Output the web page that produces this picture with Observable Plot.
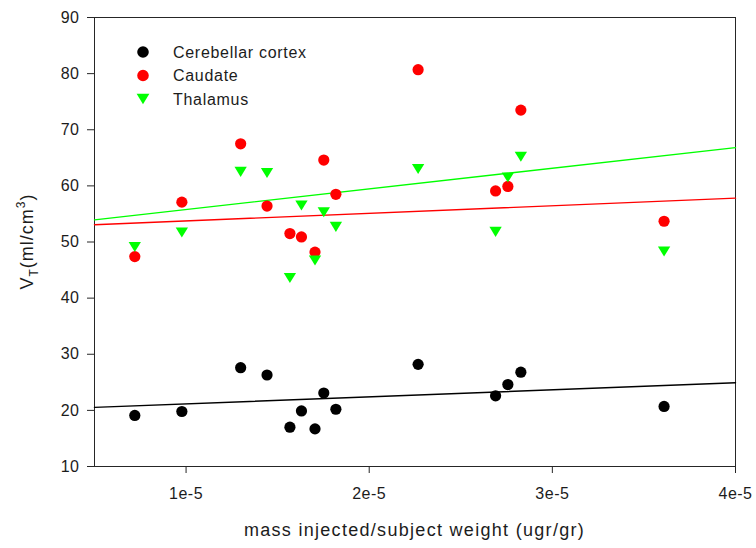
<!DOCTYPE html>
<html>
<head>
<meta charset="utf-8">
<script src="https://cdn.jsdelivr.net/npm/d3@7"></script>
<script src="https://cdn.jsdelivr.net/npm/@observablehq/plot@0.6"></script>
<style>
  html, body { margin: 0; padding: 0; background: #ffffff; }
  #chart svg { display: block; }
</style>
</head>
<body>
<div id="chart"></div>
<script>
// Mass injected per subject weight (ugr/gr), one value per scan
const mass = [7.2e-6, 9.77e-6, 12.98e-6, 14.42e-6, 15.67e-6, 16.3e-6, 17.04e-6,
              17.52e-6, 18.18e-6, 22.67e-6, 26.9e-6, 27.57e-6, 28.28e-6, 36.1e-6];

// Total distribution volume V_T (ml/cm3) per region, same scan order
const cerebellarCortex = [19.1, 19.8, 27.6, 26.3, 17.0, 19.9, 16.7, 23.1, 20.2, 28.2, 22.6, 24.6, 26.8, 20.7];
const caudate          = [47.4, 57.1, 67.5, 56.4, 51.5, 50.9, 48.2, 64.6, 58.5, 80.7, 59.1, 59.9, 73.5, 53.7];
const thalamus         = [49.1, 51.7, 62.5, 62.3, 43.6, 56.5, 46.7, 55.3, 52.7, 63.0, 51.8, 61.5, 65.2, 48.3];

const regionNames  = ["Cerebellar cortex", "Caudate", "Thalamus"];
const regionValues = [cerebellarCortex, caudate, thalamus];
const regionColors = ["#000000", "#ff0000", "#00ff00"];
// stroke of each region's regression line
const fitColors    = ["#000000", "#00ff00", "#ff0000"];

const xDomain = [5e-6, 4e-5];
const xTicks = [1e-5, 2e-5, 3e-5, 4e-5];
const xTickLabels = ["1e-5", "2e-5", "3e-5", "4e-5"];
const yDomain = [10, 90];
const yTicks = [10, 20, 30, 40, 50, 60, 70, 80, 90];

const xLabel = "mass injected/subject weight (ugr/gr)";

// Downward-pointing triangle, centred on its bounding box
const triangleDown = {
  draw(context, size) {
    const r = Math.sqrt(size / Math.PI);
    const w = 1.1 * r, h = 0.9 * r;
    context.moveTo(-w, -h);
    context.lineTo(w, -h);
    context.lineTo(0, h);
    context.closePath();
  }
};
const regionSymbols = ["circle", "circle", triangleDown];

// Least-squares line through one region's values
function linearFit(xs, ys) {
  const mx = d3.mean(xs), my = d3.mean(ys);
  const slope = d3.sum(xs, (x, i) => (x - mx) * (ys[i] - my)) / d3.sum(xs, x => (x - mx) ** 2);
  return x => my + slope * (x - mx);
}

const regions = regionNames.map((name, k) => ({
  name,
  rows: mass.map((m, i) => ({mass: m, vt: regionValues[k][i]})),
  fit: xDomain.map(x => ({mass: x, vt: linearFit(mass, regionValues[k])(x)})),
  color: regionColors[k],
  fitColor: fitColors[k],
  symbol: regionSymbols[k]
}));

const xTickLabel = new Map(xTicks.map((t, i) => [t, xTickLabels[i]]));
const font = "'Liberation Sans', Arial, Helvetica, sans-serif";
const ink = "#1c1c1c";

const margin = {left: 94, right: 21, top: 17, bottom: 82};
const W = 756, H = 548;

const chart = Plot.plot({
  width: W,
  height: H,
  marginLeft: margin.left,
  marginRight: margin.right,
  marginTop: margin.top,
  marginBottom: margin.bottom,
  style: {fontFamily: font, fontSize: "16px", color: ink, background: "#ffffff", letterSpacing: "0.5px"},
  x: {domain: xDomain},
  y: {domain: yDomain},
  marks: [
    Plot.frame({stroke: "#262626", strokeWidth: 1}),
    Plot.axisX({ticks: xTicks, tickFormat: d => xTickLabel.get(d), tickSize: 7, tickPadding: 14, label: null, stroke: "#262626"}),
    Plot.axisY({ticks: yTicks, tickSize: 7, tickPadding: 8, label: null, stroke: "#262626"}),
    ...regions.map(r => Plot.line(r.fit, {x: "mass", y: "vt", stroke: r.fitColor, strokeWidth: 1.4})),
    ...regions.map(r => Plot.dot(r.rows, {x: "mass", y: "vt", r: 5.6, symbol: r.symbol, fill: r.color, stroke: "none"}))
  ]
});

document.getElementById("chart").appendChild(chart);

const svg = d3.select(chart);
const plotLeft = margin.left, plotRight = W - margin.right;
const plotTop = margin.top, plotBottom = H - margin.bottom;

// x-axis title
svg.append("text")
  .attr("x", (plotLeft + plotRight) / 2)
  .attr("y", plotBottom + 70)
  .attr("text-anchor", "middle")
  .style("font-family", font)
  .style("font-size", "18px")
  .style("letter-spacing", "1.3px")
  .attr("fill", ink)
  .text(xLabel);

// y-axis title: V with subscript T, then (ml/cm³)
const yTitle = svg.append("text")
  .attr("transform", `translate(33,${(plotTop + plotBottom) / 2}) rotate(-90)`)
  .attr("text-anchor", "middle")
  .style("font-family", font)
  .style("font-size", "18px")
  .style("letter-spacing", "1px")
  .attr("fill", ink);
yTitle.append("tspan").text("V");
yTitle.append("tspan").attr("dy", 5).style("font-size", "12px").text("T");
yTitle.append("tspan").attr("dy", -5).text("(ml/cm");
yTitle.append("tspan").attr("dy", -8).style("font-size", "12px").text("3");
yTitle.append("tspan").attr("dy", 8).text(")");

// legend
const legend = svg.append("g").attr("transform", "translate(143,52)");
regions.forEach((r, i) => {
  const g = legend.append("g").attr("transform", `translate(0,${i * 23.5})`);
  g.append("path")
    .attr("d", d3.symbol(r.symbol === "circle" ? d3.symbolCircle : r.symbol, Math.PI * 5.8 * 5.8)())
    .attr("fill", r.color);
  g.append("text")
    .attr("x", 30)
    .attr("dy", "0.36em")
    .attr("text-anchor", "start")
    .style("font-family", font)
    .style("font-size", "16px")
    .style("letter-spacing", "0.7px")
    .attr("fill", ink)
    .text(r.name);
});
</script>
</body>
</html>
